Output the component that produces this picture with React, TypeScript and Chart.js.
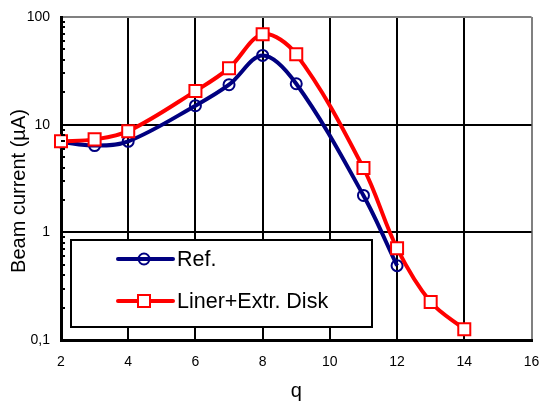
import React, { useEffect, useRef } from "react";
import { Chart, registerables } from "chart.js";

Chart.register(...registerables);

const refX = [2, 3, 4, 6, 7, 8, 9, 11, 12];
const refY = [6.9, 6.4, 7.0, 15.0, 23.5, 44, 24, 2.2, 0.49];
const linerX = [2, 3, 4, 6, 7, 8, 9, 11, 12, 13, 14];
const linerY = [7.0, 7.3, 8.7, 20.5, 33.5, 69, 45, 3.95, 0.71, 0.225, 0.126];
const yDecades = [0.1, 1, 10, 100];
const seriesNames = ["Ref.", "Liner+Extr. Disk"];
const xTitle = "q";
const yTitle = "Beam current (µA)";

const FONT = "Arial, 'Liberation Sans', sans-serif";
const NAVY = "#000080";
const RED = "#FF0000";

const overlayPlugin = {
  id: "overlay",
  afterDraw(chart: any) {
    const ctx = chart.ctx;
    const y = chart.scales.y;
    const area = chart.chartArea;
    ctx.save();
    // minor ticks on the left axis
    ctx.strokeStyle = "#000";
    ctx.lineWidth = 2;
    for (let d = 0; d < yDecades.length - 1; d++) {
      for (let k = 2; k <= 9; k++) {
        const py = Math.round(y.getPixelForValue(yDecades[d] * k));
        ctx.beginPath();
        ctx.moveTo(area.left, py);
        ctx.lineTo(area.left + 4, py);
        ctx.stroke();
      }
    }
    // y title
    ctx.save();
    ctx.translate(19, 191);
    ctx.rotate(-Math.PI / 2);
    ctx.fillStyle = "#000";
    ctx.font = `20px ${FONT}`;
    ctx.textAlign = "center";
    ctx.textBaseline = "middle";
    ctx.fillText(yTitle, 0, 0);
    ctx.restore();

    // legend
    const bx = 71, by = 240, bw = 301, bh = 87;
    ctx.fillStyle = "#fff";
    ctx.fillRect(bx, by, bw, bh);
    ctx.strokeStyle = "#000";
    ctx.lineWidth = 2;
    ctx.strokeRect(bx, by, bw, bh);
    const rows = [
      { name: seriesNames[0], color: NAVY, y: 259, marker: "circle" },
      { name: seriesNames[1], color: RED, y: 301, marker: "square" },
    ];
    rows.forEach((r) => {
      ctx.strokeStyle = r.color;
      ctx.lineWidth = 4;
      ctx.lineCap = "round";
      ctx.beginPath();
      ctx.moveTo(118, r.y);
      ctx.lineTo(173, r.y);
      ctx.stroke();
      ctx.lineWidth = 2;
      if (r.marker === "circle") {
        ctx.beginPath();
        ctx.arc(144, r.y, 5.5, 0, Math.PI * 2);
        ctx.stroke();
      } else {
        ctx.fillStyle = "#fff";
        ctx.fillRect(138, r.y - 6, 12, 12);
        ctx.strokeRect(138, r.y - 6, 12, 12);
      }
      ctx.fillStyle = "#000";
      ctx.font = `21.5px ${FONT}`;
      ctx.textAlign = "left";
      ctx.textBaseline = "middle";
      ctx.fillText(r.name, 177, r.y + 1);
    });
    ctx.restore();
  },
};

export default function App() {
  const canvasRef = useRef<HTMLCanvasElement | null>(null);

  useEffect(() => {
    const canvas = canvasRef.current;
    if (!canvas) return;
    const chart = new Chart(canvas, {
      type: "line",
      data: {
        datasets: [
          {
            label: seriesNames[1],
            data: linerX.map((x, i) => ({ x, y: linerY[i] })),
            borderColor: RED,
            borderWidth: 4,
            pointStyle: "rect",
            pointRadius: 8.5,
            pointBorderWidth: 2,
            pointBorderColor: RED,
            pointBackgroundColor: "#fff",
            tension: 0.35,
            clip: false as any,
            order: 0,
          },
          {
            label: seriesNames[0],
            data: refX.map((x, i) => ({ x, y: refY[i] })),
            borderColor: NAVY,
            borderWidth: 4,
            pointStyle: "circle",
            pointRadius: 5.5,
            pointBorderWidth: 2,
            pointBorderColor: NAVY,
            pointBackgroundColor: "rgba(0,0,0,0)",
            tension: 0.35,
            clip: false as any,
            order: 1,
          },
        ],
      },
      options: {
        animation: false,
        responsive: false,
        maintainAspectRatio: false,
        layout: { padding: { top: 17, right: 9, left: 0, bottom: 0 } },
        plugins: {
          legend: { display: false },
          tooltip: { enabled: false },
        },
        scales: {
          x: {
            type: "linear",
            min: 2,
            max: 16,
            ticks: {
              stepSize: 2,
              color: "#000",
              font: { family: FONT, size: 14 },
              padding: 14,
            },
            grid: {
              drawTicks: false,
              lineWidth: 2,
              color: (c: any) => (c.tick && c.tick.value === 16 ? "#808080" : "#000"),
            },
            border: { display: true, color: "#000", width: 3 },
            title: {
              display: true,
              text: xTitle,
              color: "#000",
              font: { family: FONT, size: 20 },
              padding: 0,
            },
            afterFit: (s: any) => {
              s.height = 63;
              s.paddingLeft = 0;
              s.paddingRight = 0;
            },
          },
          y: {
            type: "logarithmic",
            min: 0.1,
            max: 100,
            afterBuildTicks: (s: any) => {
              s.ticks = yDecades.map((v) => ({ value: v }));
            },
            ticks: {
              color: "#000",
              font: { family: FONT, size: 14 },
              padding: 11,
              callback: (v: any) => (Number(v) === 0.1 ? "0,1" : String(v)),
            },
            grid: {
              drawTicks: false,
              lineWidth: 2,
              color: (c: any) => (c.tick && c.tick.value === 100 ? "#808080" : "#000"),
            },
            border: { display: true, color: "#000", width: 3 },
            afterFit: (s: any) => {
              s.width = 61;
              s.paddingTop = 0;
              s.paddingBottom = 0;
            },
          },
        },
      },
      plugins: [overlayPlugin],
    });
    return () => chart.destroy();
  }, []);

  return (
    <div style={{ position: "absolute", left: 0, top: 0, width: 542, height: 403, background: "#fff" }}>
      <canvas ref={canvasRef} width={542} height={403} />
    </div>
  );
}
